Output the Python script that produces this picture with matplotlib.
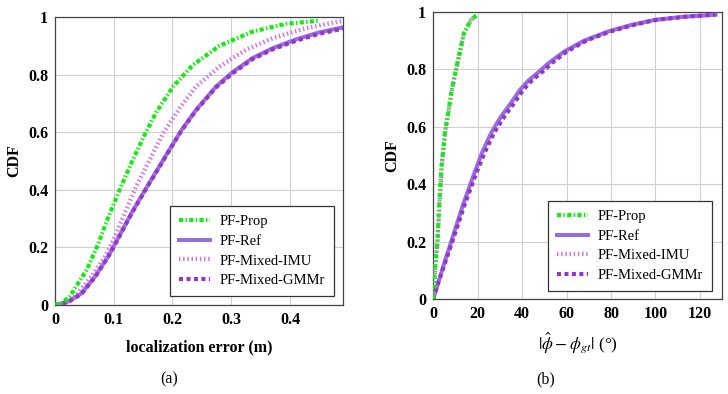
import numpy as np
import matplotlib
matplotlib.use('Agg')
import matplotlib.pyplot as plt
from matplotlib.ticker import FuncFormatter

# (a) localization error CDF
prop_x = [0.0, 0.012, 0.025, 0.054, 0.073, 0.090, 0.110, 0.130, 0.150, 0.172, 0.201, 0.234, 0.280, 0.336, 0.393, 0.449]
prop_y = [0.0, 0.008, 0.029, 0.122, 0.209, 0.301, 0.400, 0.493, 0.580, 0.668, 0.758, 0.832, 0.900, 0.949, 0.976, 0.987]

imu_x = [0.0, 0.015, 0.034, 0.062, 0.085, 0.102, 0.121, 0.141, 0.164, 0.184, 0.212, 0.240, 0.280, 0.325, 0.370, 0.427, 0.483, 0.49]
imu_y = [0.0, 0.006, 0.029, 0.098, 0.167, 0.237, 0.330, 0.423, 0.515, 0.596, 0.683, 0.758, 0.828, 0.886, 0.926, 0.961, 0.984, 0.986]

ref_x = [0.0, 0.010, 0.023, 0.045, 0.068, 0.090, 0.107, 0.130, 0.155, 0.175, 0.198, 0.215, 0.240, 0.274, 0.302, 0.336, 0.370, 0.410, 0.449, 0.483, 0.49]
ref_y = [0.0, 0.003, 0.012, 0.040, 0.098, 0.167, 0.230, 0.318, 0.405, 0.472, 0.550, 0.606, 0.677, 0.758, 0.808, 0.857, 0.891, 0.922, 0.946, 0.961, 0.964]

gmm_x = [0.0, 0.010, 0.023, 0.045, 0.068, 0.090, 0.107, 0.130, 0.155, 0.175, 0.198, 0.215, 0.240, 0.274, 0.302, 0.336, 0.370, 0.410, 0.449, 0.483, 0.49]
gmm_y = [0.0, 0.003, 0.011, 0.038, 0.096, 0.165, 0.228, 0.316, 0.403, 0.470, 0.548, 0.604, 0.675, 0.755, 0.804, 0.853, 0.887, 0.917, 0.941, 0.956, 0.959]

# (b) heading error CDF
prop_b_x = [0.0, 0.3, 1.0, 2.0, 2.7, 3.8, 5.3, 7.3, 8.3, 11.0, 13.8, 17.0, 19.8]
prop_b_y = [0.0, 0.045, 0.12, 0.21, 0.325, 0.465, 0.58, 0.675, 0.727, 0.826, 0.925, 0.972, 0.99]

imu_b_x = [0.0, 0.3, 1.0, 2.0, 2.8, 3.9, 5.4, 7.4, 8.4, 11.1, 13.9, 17.1, 20.0]
imu_b_y = [0.0, 0.045, 0.12, 0.21, 0.325, 0.465, 0.58, 0.675, 0.727, 0.826, 0.925, 0.972, 0.99]

ref_b_x = [0.0, 2.0, 5.0, 8.0, 13.3, 18.6, 22.0, 26.2, 30.5, 35.3, 39.0, 43.0, 47.4, 52.0, 58.8, 68.0, 78.5, 89.0, 99.7, 113.0, 127.0]
ref_b_y = [0.0, 0.05, 0.125, 0.197, 0.325, 0.44, 0.51, 0.58, 0.635, 0.686, 0.728, 0.762, 0.79, 0.822, 0.861, 0.90, 0.931, 0.954, 0.972, 0.983, 0.99]

gmm_b_x = [0.0, 2.0, 5.3, 8.5, 14.0, 19.5, 23.2, 27.5, 32.0, 36.8, 40.5, 44.5, 49.0, 53.5, 60.0, 69.0, 79.5, 90.0, 100.5, 113.5, 127.0]
gmm_b_y = [0.0, 0.05, 0.125, 0.197, 0.325, 0.44, 0.51, 0.58, 0.635, 0.686, 0.728, 0.762, 0.79, 0.822, 0.861, 0.90, 0.931, 0.954, 0.972, 0.983, 0.99]

plt.rcParams['font.family'] = ['Liberation Serif', 'DejaVu Serif']
plt.rcParams['mathtext.fontset'] = 'stix'

c_prop = '#10ee10'
c_ref = '#9370db'
c_imu = '#d070e0'
c_gmm = '#9932cc'


def draw(ax, series):
    (px, py), (rx, ry), (ix, iy), (gx, gy) = series
    ax.plot(rx, ry, color=c_ref, lw=2.9, label='PF-Ref', zorder=3)
    ax.plot(ix, iy, color=c_imu, lw=3.2, dashes=(0.32, 0.62), label='PF-Mixed-IMU', zorder=4)
    ax.plot(gx, gy, color=c_gmm, lw=2.9, dashes=(1.0, 0.85), label='PF-Mixed-GMMr', zorder=4)
    ax.plot(px, py, color=c_prop, lw=3.0, dashes=(1.0, 0.55, 0.35, 0.55), label='PF-Prop', zorder=5)
    ax.grid(True, color='#d0d0d0', lw=0.8)
    ax.set_axisbelow(True)
    ax.tick_params(length=0, labelsize=11.5, pad=5)
    for s in ax.spines.values():
        s.set_color('#444444')
        s.set_linewidth(0.9)
    ax.set_ylim(0, 1)
    ax.set_yticks([0, 0.2, 0.4, 0.6, 0.8, 1.0])
    ax.yaxis.set_major_formatter(FuncFormatter(lambda v, p: '%g' % v))
    ax.set_ylabel('CDF', fontweight='bold', fontsize=11.5, labelpad=4)
    h, l = ax.get_legend_handles_labels()
    order = [3, 0, 1, 2]
    return [h[i] for i in order], [l[i] for i in order]


def legend(ax, h, l, anchor):
    leg = ax.legend(h, l, loc='lower right', bbox_to_anchor=anchor, fancybox=False,
                    edgecolor='#333333', framealpha=1, fontsize=10.5, handlelength=2.1,
                    handletextpad=0.7, borderpad=0.6, labelspacing=0.45, borderaxespad=0)
    leg.get_frame().set_linewidth(0.9)


fig = plt.figure(figsize=(7.28, 3.94), dpi=100)
ax1 = fig.add_axes([0.0755, 0.226, 0.3955, 0.731])
ax2 = fig.add_axes([0.595, 0.241, 0.397, 0.729])

h, l = draw(ax1, [(prop_x, prop_y), (ref_x, ref_y), (imu_x, imu_y), (gmm_x, gmm_y)])
ax1.set_xlim(0, 0.49)
ax1.set_xticks([0, 0.1, 0.2, 0.3, 0.4])
ax1.xaxis.set_major_formatter(FuncFormatter(lambda v, p: '%g' % v))
ax1.set_xlabel('localization error (m)', fontweight='bold', fontsize=11.5, labelpad=8)
legend(ax1, h, l, (0.969, 0.031))

h, l = draw(ax2, [(prop_b_x, prop_b_y), (ref_b_x, ref_b_y), (imu_b_x, imu_b_y), (gmm_b_x, gmm_b_y)])
ax2.set_xlim(0, 130)
ax2.set_xticks([0, 20, 40, 60, 80, 100, 120])
ax2.set_xlabel(r'$|\hat{\phi}-\phi_{gt}|$ (°)', fontsize=12.5, labelpad=6)
legend(ax2, h, l, (0.965, 0.028))

for ax in (ax1, ax2):
    for lab in ax.get_xticklabels() + ax.get_yticklabels():
        lab.set_fontweight('bold')

fig.text(0.233, 0.028, '(a)', ha='center', fontsize=11.5)
fig.text(0.75, 0.028, '(b)', ha='center', fontsize=11.5)

fig.savefig('out.png', dpi=100)
